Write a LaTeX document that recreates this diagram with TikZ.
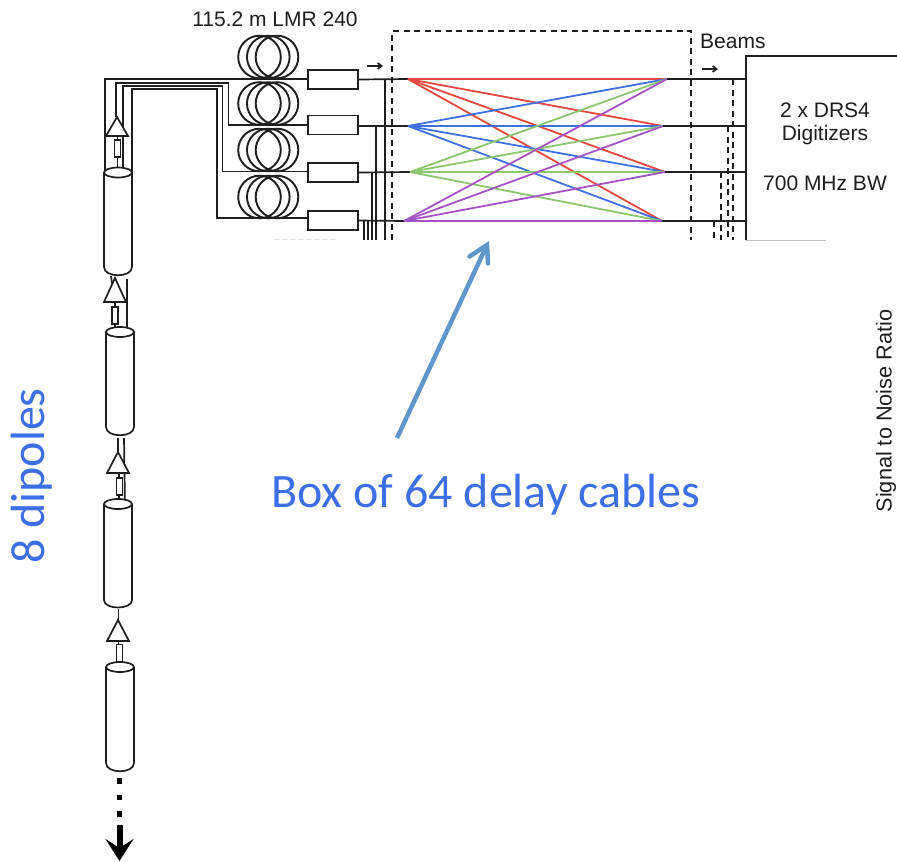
\documentclass[tikz,border=0pt]{standalone}
\usepackage{fontspec}
\setmainfont{Liberation Sans}
\newfontfamily\calib{Carlito}
\usetikzlibrary{arrows.meta}
\definecolor{ink}{HTML}{1E1E1E}
\definecolor{cred}{HTML}{E5483F}
\definecolor{cblue}{HTML}{3F72E0}
\definecolor{cgreen}{HTML}{8CC66E}
\definecolor{cpurple}{HTML}{A552C4}
\definecolor{txtblue}{HTML}{3B6FE3}
\definecolor{steel}{HTML}{5F97CC}
\tikzset{
  wire/.style={draw=ink,line width=1.7pt},
  part/.style={draw=ink,line width=1.7pt,fill=white},
  attenbox/.style={part,rectangle,inner sep=0pt,minimum width=50pt,minimum height=19pt},
  resbox/.style={part,rectangle,inner sep=0pt,minimum width=6pt,minimum height=17pt},
  coil/.style={draw=ink,line width=1.9pt},
  dashline/.style={draw=ink,line width=1.5pt,dash pattern=on 6pt off 4.5pt},
  small/.style={text=ink,font=\fontsize{21}{23}\selectfont,inner sep=0pt},
  big/.style={text=txtblue,font=\calib\fontsize{48}{52}\selectfont,inner sep=0pt},
  fan/.style={line width=1.8pt},
  tinyarrow/.style={wire,-{Straight Barb[length=4pt,width=6pt]}}
}
\newcommand{\coilset}[1]{%
  \draw[coil] (259.5,#1) circle (21.3pt);
  \draw[coil] (268.3,#1) circle (21.3pt);
  \draw[coil] (277,#1) circle (21.3pt);
}
\newcommand{\cyl}[5]{% left right topy sideend bottom
  \draw[part] (#1,#3) -- (#1,#4) .. controls (#1,#5) and (#2,#5) .. (#2,#4) -- (#2,#3);
  \draw[part] ({(#1+#2)/2},#3) ellipse ({(#2-#1)/2} and 5);
}
\newcommand{\amp}[4]{% left right apexy basey
  \draw[part,line join=miter] (#1,#4) -- ({(#1+#2)/2},#3) -- (#2,#4) -- cycle;
}
\begin{document}
\begin{tikzpicture}[x=1pt,y=-1pt]
\useasboundingbox (0,0) rectangle (897,862);
% coordinates for wires
\coordinate (L1) at (408,79);
\coordinate (L2) at (408,126);
\coordinate (L3) at (410,172);
\coordinate (L4) at (404,221);
\coordinate (R1) at (667,79);
\coordinate (R2) at (663,126);
\coordinate (R3) at (665,172);
\coordinate (R4) at (662,221);
% coils
\coilset{57}\coilset{103.5}\coilset{150}\coilset{197}
% left nest wires
\draw[wire] (105,172) -- (105,79) -- (308,79);
\draw[wire] (116,117) -- (116,83) -- (228.5,83) -- (228.5,125) -- (308,125);
\draw[wire] (123,170) -- (123,86) -- (222.5,86) -- (222.5,171.5) -- (308,171.5);
\draw[wire] (132,172) -- (132,89) -- (217,89) -- (217,218) -- (308,218);
% attenuator boxes
\node[attenbox] (a1) at (333,79.5) {};
\node[attenbox] (a2) at (333,125) {};
\node[attenbox] (a3) at (333,172.5) {};
\node[attenbox] (a4) at (333,220.5) {};
% wires to fan
\draw[wire] (a1.east) -- (L1);
\draw[wire] (a2.east) ++(0,1) -- (L2);
\draw[wire] (a3.east) -- (L3);
\draw[wire] (a4.east) -- (L4);
\draw[wire] (385,79) -- (385,240);
\draw[wire] (376,126) -- (376,240);
\draw[wire] (372,172) -- (372,240);
\draw[wire] (368,221) -- (368,240);
\draw[wire] (364,221) -- (364,240);
% dashed box
\draw[dashline] (392,240) -- (392,31) -- (691,31) -- (691,240);
% fan
\foreach \c/\s in {cred/L1,cblue/L2,cgreen/L3,cpurple/L4}{
  \foreach \t in {R1,R2,R3,R4}{
    \draw[fan,\c] (\s) -- (\t);
  }
}
% digitizer
\draw[wire] (897,56) -- (746,56) -- (746,240);
\draw[draw=gray!50,line width=1pt] (746,240) -- (826,240);
\draw[draw=gray!25,line width=1pt,dash pattern=on 5pt off 3pt] (274,239.5) -- (338,239.5);
\draw[wire] (R1) -- (746,79);
\draw[wire] (R2) -- (746,126);
\draw[wire] (R3) -- (746,172);
\draw[wire] (R4) -- (746,221);
\draw[dashline] (733,79) -- (733,240);
\draw[dashline] (728,126) -- (728,240);
\draw[dashline] (721,172) -- (721,240);
\draw[dashline] (714,221) -- (714,240);
% small arrows
\coordinate (ar1a) at (367,66);\coordinate (ar1b) at (383,66);
\coordinate (ar2a) at (702,69);\coordinate (ar2b) at (718,69);
\draw[tinyarrow] (ar1a) -- (ar1b);
\draw[tinyarrow] (ar2a) -- (ar2b);
% labels
\node[small] (t1) at (275,19) {115.2 m LMR 240};
\node[small,anchor=west] (t2) at (700,41) {Beams};
\node[small] (t3) at (825,110) {2 x DRS4};
\node[small] (t4) at (825,135) {Digitizers};
\node[small] (t5) at (825,183) {700 MHz BW};
\node[small,rotate=90,font=\fontsize{21.7}{23}\selectfont] (t6) at (886,411) {Signal to Noise Ratio};
\node[big] (t7) at (486,495) {Box of 64 delay cables};
\node[big,rotate=90] (t8) at (32,476) {8 dipoles};
% big arrow: shaft with an open barbed head
\coordinate (ba) at (397,438);
\coordinate (bb) at (487,245);
\coordinate (bc) at (469.5,256.5);
\coordinate (bd) at (488,263.5);
\draw[steel,line width=4.5pt] (ba) -- (bb);
\draw[steel,line width=4.5pt,line join=miter,line cap=round] (bc) -- (bb) -- (bd);
% chain: stage 1
\draw[wire] (117.5,136) -- (117.5,172);
\amp{106}{128}{117}{136}
\node[resbox,minimum height=17pt] (r1) at (117.5,148.5) {};
\cyl{104}{132}{172.5}{267}{278}
% stage 2
\draw[wire] (127,279) -- (127,332);
\draw[wire] (111,276) -- (115,302);
\draw[wire] (115,302) -- (115,332);
\amp{104}{126}{278}{302}
\node[resbox] (r2) at (115,315.5) {};
\cyl{106}{134}{332}{427}{438}
% stage 3
\draw[wire] (118,438) -- (118,456);
\draw[wire] (124,438) -- (125,506);
\draw[wire] (119,473) -- (119,506);
\amp{107}{129}{452}{473}
\node[resbox] (r3) at (119.5,486.5) {};
\cyl{104}{132}{504}{600}{610}
% stage 4
\draw[wire] (118.5,609) -- (118.5,621);
\draw[wire] (118.5,641) -- (118.5,667);
\amp{107}{129}{620}{641}
\node[resbox] (r4) at (119.5,653) {};
\cyl{106}{134}{667}{763}{774}
% dots and down arrow
\foreach \y in {781,797.5,814}{\fill[black] (116.5,\y-2.7) rectangle (122,\y+2.7);}
\coordinate (da) at (119.5,825);
\coordinate (db) at (119.5,861);
\draw[black,line width=6pt,-{Stealth[length=22pt,width=28pt,inset=9pt]}] (da) -- (db);
\end{tikzpicture}
\end{document}
